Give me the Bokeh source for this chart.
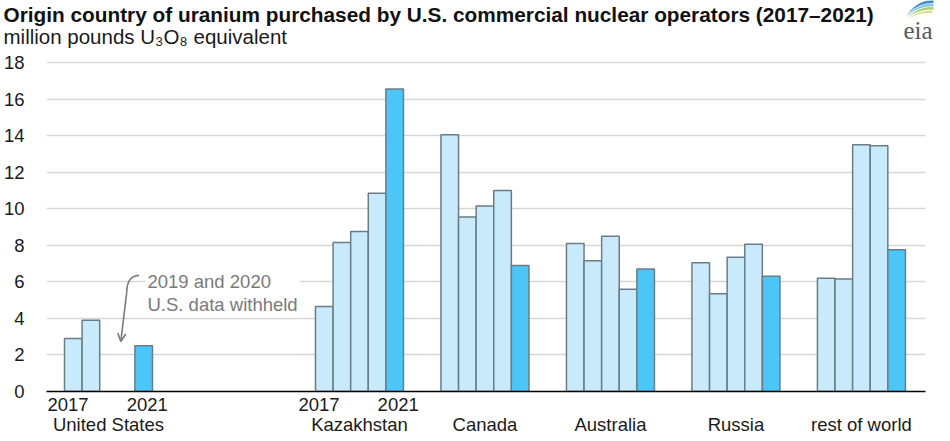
from bokeh.plotting import figure
from bokeh.layouts import column
from bokeh.models import (Range1d, FixedTicker, LinearAxis, Label, Arrow,
                          OpenHead, ColumnDataSource)
from bokeh.core.properties import value
from bokeh.embed import file_html
from bokeh.resources import INLINE
import numpy as np

# ---------------- data ----------------
title_text = "Origin country of uranium purchased by U.S. commercial nuclear operators (2017–2021)"
subtitle_text = "million pounds U₃O₈ equivalent"
note_text = "2019 and 2020\nU.S. data withheld"
group_names = ["United States", "", "Kazakhstan", "Canada", "Australia", "Russia", "rest of world"]
years = ["2017", "2018", "2019", "2020", "2021"]
united_states = [2.9, 3.9, None, None, 2.5]
kazakhstan = [4.65, 8.15, 8.75, 10.85, 16.55]
canada = [14.05, 9.55, 10.15, 11.0, 6.9]
australia = [8.1, 7.15, 8.5, 5.6, 6.7]
russia = [7.05, 5.35, 7.35, 8.05, 6.3]
rest_of_world = [6.2, 6.15, 13.5, 13.45, 7.75]
series = [united_states, None, kazakhstan, canada, australia, russia, rest_of_world]
y_ticks = [0, 2, 4, 6, 8, 10, 12, 14, 16, 18]

# ---------------- styles ----------------
FONT = "Liberation Sans"
INK = "#1a1a1a"
GREY = "#7a7a7a"
LIGHT = "#c8eafb"
DARK = "#4cc6f6"
EDGE = "#6b7c88"
PITCH = 7.13           # group pitch in bar widths
PXX = 17.6             # px per bar width
PXY = 18.28            # px per y unit
W = 934
HEAD_H = 52
TOP_B = 4

def X(rx):  # reference pixel -> data x
    return (rx - 67) / PXX

def Y(ry):  # reference pixel -> data y
    return (391 - ry) / PXY

# ---------------- header (title, subtitle, logo) ----------------
h = figure(width=W, height=HEAD_H, output_backend="svg", toolbar_location=None,
           x_range=Range1d(0, W), y_range=Range1d(HEAD_H, 0),
           min_border=0, min_border_left=0, min_border_right=0,
           min_border_top=0, min_border_bottom=0)
h.frame_align = False
h.axis.visible = False
h.grid.visible = False
h.outline_line_color = None
h.text(x=[3], y=[13.5], text=[title_text], text_font=value(FONT),
       text_font_size="20.8px", text_font_style="bold", text_color="#111111",
       text_baseline="alphabetic", text_align="left")
h.text(x=[3], y=[36], text=[subtitle_text], text_font=value(FONT),
       text_font_size="20.5px", text_color=INK,
       text_baseline="alphabetic", text_align="left")
h.text(x=[903], y=[30], text=["eia"], text_font=value("Liberation Serif"),
       text_font_size="25px", text_color="#555a60",
       text_baseline="alphabetic", text_align="left")
t = np.linspace(0, 1, 24)
bands = [((906, 15), (933, 1), (917, 1), 1.5, "#2f7fc1"),
         ((906, 16), (933, 4.5), (918, 4), 1.5, "#7cc3e8"),
         ((907, 17), (933, 8), (919, 7), 1.3, "#9ccc5a"),
         ((908, 18), (932, 11.5), (920, 10.5), 1.1, "#d6dc78")]
for (sx, sy), (ex, ey), (cx, cy), w, col in bands:
    lo_x = (1 - t) ** 2 * sx + 2 * (1 - t) * t * cx + t ** 2 * ex
    lo_y = (1 - t) ** 2 * sy + 2 * (1 - t) * t * (cy + w) + t ** 2 * (ey + w)
    hi_y = (1 - t) ** 2 * sy + 2 * (1 - t) * t * (cy - w) + t ** 2 * (ey - w)
    h.patch(np.concatenate([lo_x, lo_x[::-1]]), np.concatenate([lo_y, hi_y[::-1]]),
            fill_color=col, fill_alpha=0.9, line_color=None)

# ---------------- main chart ----------------
xs, tops, colors = [], [], []
for g, vals in enumerate(series):
    if vals is None:
        continue
    for i, v in enumerate(vals):
        if v is None:
            continue
        xs.append(g * PITCH + i + 0.5)
        tops.append(v)
        colors.append(DARK if years[i] == "2021" else LIGHT)
src = ColumnDataSource(dict(x=xs, top=tops, color=colors))

y_end = 18 + (62 - HEAD_H - TOP_B) / PXY
frame_h = int(round(y_end * PXY))

p = figure(frame_width=879, frame_height=frame_h, output_backend="svg",
           toolbar_location=None, x_range=Range1d(X(49), X(928)),
           y_range=Range1d(0, y_end), min_border_left=41, min_border_right=14,
           min_border_top=TOP_B, min_border_bottom=40, x_axis_location=None)
p.frame_align = False
p.outline_line_color = None
p.xgrid.visible = False

p.yaxis.ticker = FixedTicker(ticks=y_ticks)
p.yaxis.axis_line_color = None
p.yaxis.major_tick_line_color = None
p.yaxis.minor_tick_line_color = None
p.yaxis.major_label_text_font = FONT
p.yaxis.major_label_text_font_size = "18.5px"
p.yaxis.major_label_text_color = INK
p.yaxis.major_label_standoff = 16
p.ygrid.ticker = FixedTicker(ticks=y_ticks)
p.ygrid.grid_line_color = "#d6d6d6"
p.ygrid.grid_line_width = 1.6

year_ticks = {}
for g in (0, 2):
    year_ticks[round(g * PITCH + 0.2, 3)] = years[0]
    year_ticks[round(g * PITCH + 4.7, 3)] = years[-1]
ax1 = LinearAxis(ticker=FixedTicker(ticks=list(year_ticks.keys())),
                 major_label_overrides=year_ticks)
ax1.axis_line_color = "black"
ax1.axis_line_width = 1.6
ax1.major_tick_line_color = None
ax1.minor_tick_line_color = None
ax1.major_tick_out = 0
ax1.major_label_standoff = 6
ax1.major_label_text_font = FONT
ax1.major_label_text_font_size = "18.5px"
ax1.major_label_text_color = INK
p.add_layout(ax1, "below")

grp_ticks = {round(g * PITCH + 2.5, 3): n for g, n in enumerate(group_names) if n}
ax2 = LinearAxis(ticker=FixedTicker(ticks=list(grp_ticks.keys())),
                 major_label_overrides=grp_ticks)
ax2.axis_line_color = None
ax2.major_tick_line_color = None
ax2.minor_tick_line_color = None
ax2.major_tick_out = 0
ax2.major_label_standoff = 0
ax2.major_label_text_font = FONT
ax2.major_label_text_font_size = "18.5px"
ax2.major_label_text_color = INK
p.add_layout(ax2, "below")

p.vbar(x="x", top="top", width=1, source=src, fill_color="color",
       line_color=EDGE, line_width=1.5)

# annotation
p.add_layout(Label(x=X(148), y=Y(268), text=note_text,
                   text_font=FONT, text_font_size="18.5px", text_color=GREY,
                   text_baseline="top", text_align="left", text_line_height=1.14,
                   background_fill_color="white", padding=2))
bx = (1 - t) ** 2 * 141.7 + 2 * (1 - t) * t * 129.5 + t ** 2 * 129.2
by = (1 - t) ** 2 * 275 + 2 * (1 - t) * t * 275 + t ** 2 * 292
p.line([X(v) for v in bx], [Y(v) for v in by], line_color=GREY, line_width=1.6)
p.add_layout(Arrow(x_start=X(129.2), y_start=Y(292), x_end=X(123.3), y_end=Y(341),
                   line_color=GREY, line_width=1.6,
                   end=OpenHead(size=8, line_color=GREY, line_width=1.6)))

layout = column(h, p, spacing=0)
open("out.html", "w").write(file_html(layout, INLINE))
